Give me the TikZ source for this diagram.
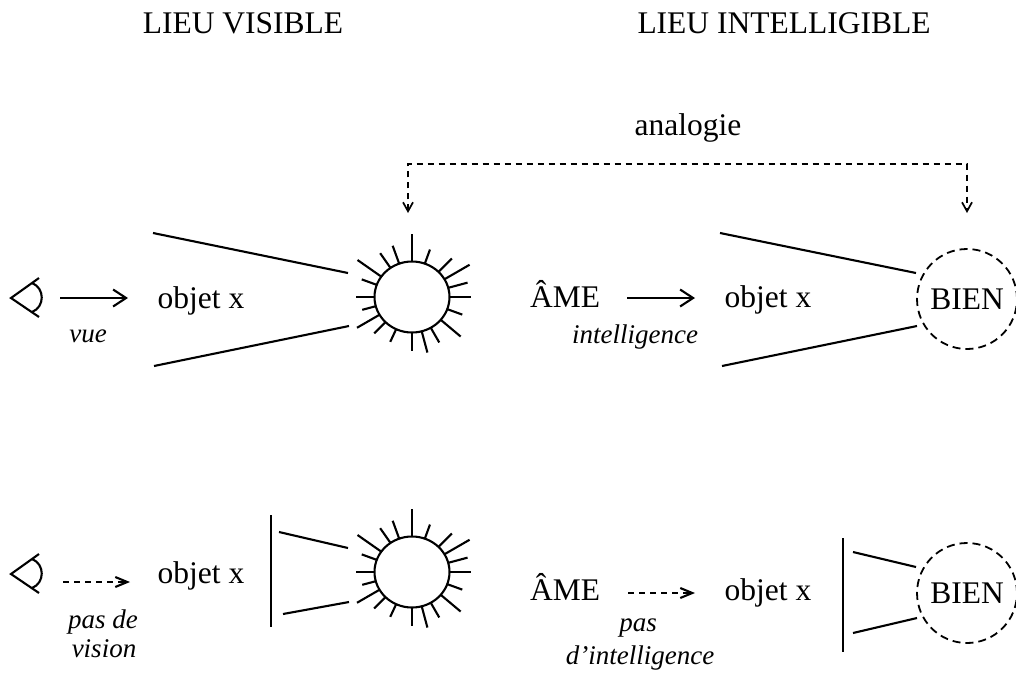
\documentclass[tikz,border=0pt]{standalone}
\usepackage{fontspec}
\setmainfont{Liberation Serif}
\usetikzlibrary{arrows.meta}
\begin{document}
\begin{tikzpicture}[x=1pt,y=-1pt, line width=2.1pt,
  txt/.style={font=\fontsize{31.5}{36}\selectfont, inner sep=0pt, anchor=base},
  lbl/.style={font=\fontsize{27}{30}\selectfont\itshape, inner sep=0pt, anchor=base},
  arr/.style={-{Straight Barb[length=13pt,width=17pt]}},
  darr/.style={dash pattern=on 6pt off 5pt, -{Straight Barb[length=12pt,width=10pt]}},
  abr/.style={line width=1.7pt, dash pattern=on 6pt off 5pt, {Straight Barb[length=9pt,width=10pt]}-{Straight Barb[length=9pt,width=10pt]}},
  bien/.style={circle, draw, line width=1.8pt, dash pattern=on 8pt off 5pt, minimum size=100pt, inner sep=0pt, font=\fontsize{31.5}{36}\selectfont},
  eye/.pic={\draw (39,-20) -- (11,0) -- (39,19);
            \draw (32,-15) .. controls (45,-10) and (45,9) .. (32,14);},
  sun/.pic={\draw (0,0) ellipse [x radius=37.5pt, y radius=35.5pt];
    \foreach \a/\l in {90/28,70/15,45/19,30/29,15/20,0/21,-20/16,-40/26,-60/17,-75/22,-90/18,-115/14,-135/16,-150/26,-165/14,180/19,160/16,145/29,125/18,110/19}
      \draw (\a:37.5pt and 35.5pt) -- ++(\a:\l pt);}
]
\useasboundingbox (0,0) rectangle (1016,675);

% titles
\node[txt] (t1) at (243,33) {LIEU VISIBLE};
\node[txt] (t2) at (784,33) {LIEU INTELLIGIBLE};

% analogie
\node[txt] (analogie) at (688,135) {analogie};
\coordinate (aL) at (408,213);
\coordinate (aTop) at (688,164);
\coordinate (aR) at (967,213);
\draw[abr] (aL) |- (aTop) -| (aR);

% ---- top left row ----
\pic at (0,298) {eye};
\coordinate (e1s) at (60,298);
\coordinate (e1e) at (128,298);
\draw[arr] (e1s) -- (e1e);
\node[lbl] (vue) at (88,342) {vue};
\node[txt] (o1) at (201,308) {objet x};
\coordinate (c1a) at (153,233); \coordinate (c1b) at (348,273);
\coordinate (c1c) at (154,366); \coordinate (c1d) at (349,326);
\draw (c1a) -- (c1b);
\draw (c1c) -- (c1d);
\pic (sun1) at (412,297) {sun};

% ---- top right row ----
\node[txt] (ame1) at (565,307) {ÂME};
\coordinate (r1s) at (627,298);
\coordinate (r1e) at (695,298);
\draw[arr] (r1s) -- (r1e);
\node[lbl] (intel) at (635,343) {intelligence};
\node[txt] (o2) at (768,307) {objet x};
\coordinate (c2a) at (720,233); \coordinate (c2b) at (916,273);
\coordinate (c2c) at (722,366); \coordinate (c2d) at (917,326);
\draw (c2a) -- (c2b);
\draw (c2c) -- (c2d);
\node[bien] (bien1) at (967,299) {BIEN};

% ---- bottom left row ----
\pic at (0,574) {eye};
\coordinate (e2s) at (63,582);
\coordinate (e2e) at (130,582);
\draw[darr] (e2s) -- (e2e);
\node[lbl] (pasde) at (103,628) {pas de};
\node[lbl] (vision) at (104,657) {vision};
\node[txt] (o3) at (201,583) {objet x};
\coordinate (v1a) at (271,515); \coordinate (v1b) at (271,627);
\draw (v1a) -- (v1b);
\coordinate (c3a) at (279,532); \coordinate (c3b) at (348,548);
\coordinate (c3c) at (283,614); \coordinate (c3d) at (349,602);
\draw (c3a) -- (c3b);
\draw (c3c) -- (c3d);
\pic (sun2) at (412,572) {sun};

% ---- bottom right row ----
\node[txt] (ame2) at (565,600) {ÂME};
\coordinate (r2s) at (628,593);
\coordinate (r2e) at (695,593);
\draw[darr] (r2s) -- (r2e);
\node[lbl] (pas) at (638,631) {pas};
\node[lbl] (dintel) at (640,664) {d’intelligence};
\node[txt] (o4) at (768,600) {objet x};
\coordinate (v2a) at (843,538); \coordinate (v2b) at (843,652);
\draw (v2a) -- (v2b);
\coordinate (c4a) at (853,552); \coordinate (c4b) at (916,567);
\coordinate (c4c) at (853,633); \coordinate (c4d) at (917,618);
\draw (c4a) -- (c4b);
\draw (c4c) -- (c4d);
\node[bien] (bien2) at (967,593) {BIEN};
\end{tikzpicture}
\end{document}
